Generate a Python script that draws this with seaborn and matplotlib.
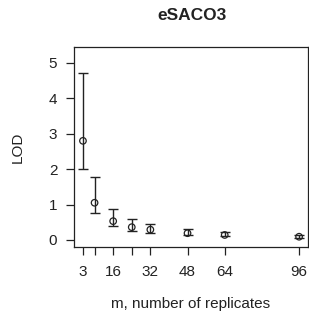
import numpy as np
import pandas as pd
import matplotlib
matplotlib.use('Agg')
import matplotlib.pyplot as plt
import seaborn as sns

# replicates and LOD estimates with interval bounds
m_rep = [3, 8, 16, 24, 32, 48, 64, 96]
lod = [2.80, 1.05, 0.53, 0.36, 0.29, 0.19, 0.14, 0.09]
lod_lo = [2.00, 0.75, 0.38, 0.26, 0.19, 0.13, 0.10, 0.06]
lod_hi = [4.72, 1.77, 0.88, 0.60, 0.45, 0.31, 0.23, 0.15]
xtick_vals = [3, 8, 16, 24, 32, 48, 64, 96]
xtick_labels = ['3', '', '16', '', '32', '48', '64', '96']

df = pd.DataFrame({'m': m_rep, 'lod': lod, 'lo': lod_lo, 'hi': lod_hi})

sns.set_style('ticks')
plt.rcParams['font.family'] = ['Liberation Sans', 'DejaVu Sans']

fig = plt.figure(figsize=(3.09, 3.18), dpi=100)
ax = fig.add_axes([0.2395, 0.2233, 0.757, 0.6287])

yerr = np.array([df['lod'] - df['lo'], df['hi'] - df['lod']])
ax.errorbar(df['m'], df['lod'], yerr=yerr, fmt='none', ecolor='#222222',
            elinewidth=1.0, capsize=3.6, capthick=1.0)
sns.scatterplot(data=df, x='m', y='lod', ax=ax, marker='o', s=22,
                facecolor='none', edgecolor='#222222', linewidth=0.9, zorder=3)

ax.set_xlim(-0.85, 99.8)
ax.set_ylim(-0.2, 5.45)
ax.set_xticks(xtick_vals)
ax.set_xticklabels(xtick_labels)
ax.set_yticks([0, 1, 2, 3, 4, 5])
ax.tick_params(axis='both', labelsize=11, length=6, width=0.9, color='#222222',
               labelcolor='#222222')
ax.tick_params(axis='x', pad=7)
ax.tick_params(axis='y', pad=6)
for sp in ax.spines.values():
    sp.set_visible(True)
    sp.set_color('#222222')
    sp.set_linewidth(0.9)

ax.set_xlabel('m, number of replicates', fontsize=11, color='#222222', labelpad=13)
ax.set_ylabel('LOD', fontsize=11, color='#222222', labelpad=17)
fig.text(0.62, 0.952, 'eSACO3', ha='center', va='center', fontsize=12.5,
         fontweight='bold', color='#222222')

fig.savefig('out.png', dpi=100)
